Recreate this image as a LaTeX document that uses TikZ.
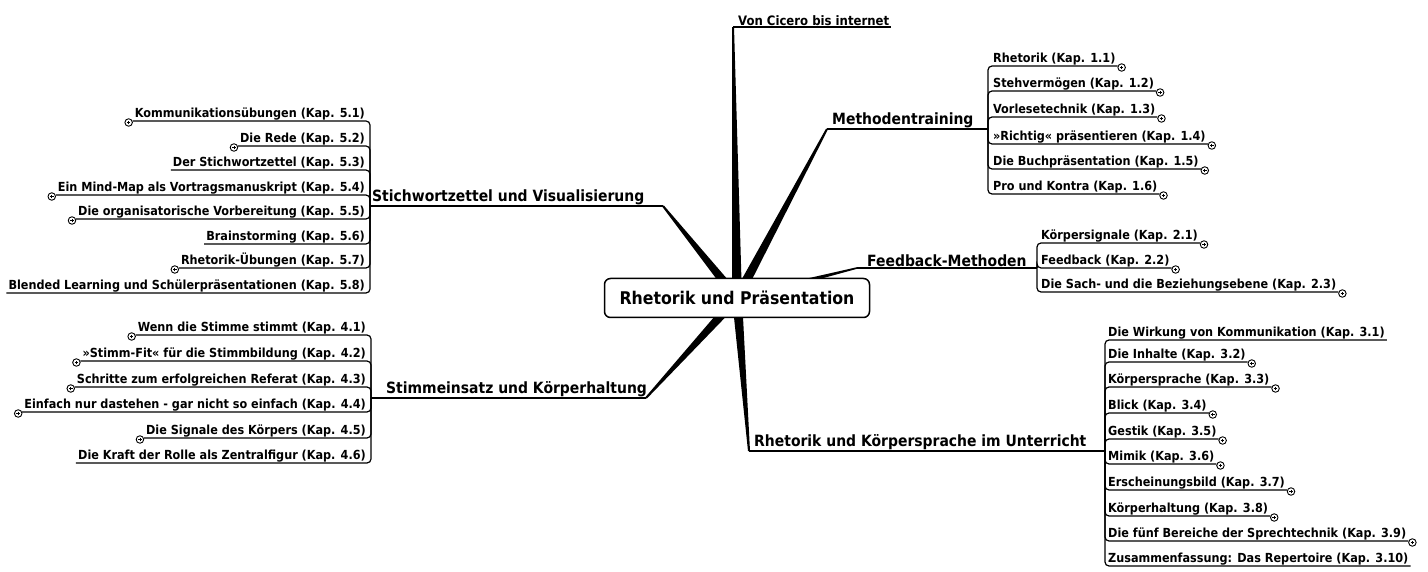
\documentclass[tikz,border=0pt]{standalone}
\usepackage{fontspec}
\setmainfont{DejaVu Sans Condensed}
\usetikzlibrary{calc}
\tikzset{
  base/.style={font=\bfseries\fontsize{12.5}{14}\selectfont, inner xsep=2pt, inner ysep=1pt},
  rc/.style={base, anchor=south west},
  lc/.style={base, anchor=south east},
  mainlbl/.style={font=\bfseries\fontsize{15.5}{17}\selectfont, inner xsep=2pt, inner ysep=1pt, anchor=south west},
  ul/.style={line width=1.2pt},
  conn/.style={line width=1.2pt, rounded corners=4pt},
  plusc/.style={circle, draw, line width=0.9pt, minimum size=7.5pt, inner sep=0pt, fill=white,
    path picture={
      \draw[line width=0.8pt] ([xshift=-1.8pt]path picture bounding box.center) -- ([xshift=1.8pt]path picture bounding box.center);
      \draw[line width=0.8pt] ([yshift=-1.8pt]path picture bounding box.center) -- ([yshift=1.8pt]path picture bounding box.center);
    }},
  centerbox/.style={draw, line width=1.5pt, rounded corners=6pt, fill=white, minimum width=265pt, minimum height=39pt,
    font=\bfseries\fontsize{17.5}{19}\selectfont}
}
\newcommand\taper[4]{\fill ($#1!#3!90:#2$) -- ($#1!#3!-90:#2$) -- ($#2!#4!90:#1$) -- ($#2!#4!-90:#1$) -- cycle;}
\begin{document}
\begin{tikzpicture}[x=1pt,y=-1pt]
\useasboundingbox[fill=white] (0,0) rectangle (1428,572);
% hub and branch ends
\coordinate (cc) at (737,298);
\coordinate (e1) at (733,27);
\coordinate (e2) at (827,129);
\coordinate (e3) at (857,268);
\coordinate (e4) at (749,451);
\coordinate (e5) at (663,206);
\coordinate (e6) at (646,398);
\coordinate (mj) at (988,129);
\coordinate (fj) at (1037,268);
\coordinate (rj) at (1105,451);
\coordinate (sj) at (370,206);
\coordinate (tj) at (371,398);
% tapered main branches
\taper{(cc)}{(e1)}{5pt}{1pt}
\taper{(cc)}{(e2)}{5pt}{1pt}
\taper{(cc)}{(e3)}{3.5pt}{0.8pt}
\taper{(cc)}{(e4)}{5pt}{1pt}
\taper{(cc)}{(e5)}{5pt}{1pt}
\taper{(cc)}{(e6)}{5pt}{1pt}
% central node
\node[centerbox] (root) at (cc) {Rhetorik und Präsentation};
% main labels
\node[base, anchor=south west, font=\bfseries\fontsize{13}{15}\selectfont] (cic) at (736,27) {Von Cicero bis internet};
\draw[ul] (e1) -- (cic.south east);
\node[mainlbl] (meth) at (830,129) {Methodentraining};
\draw[ul] (e2) -- (mj);
\node[mainlbl] (fb) at (865,268) {Feedback-Methoden};
\draw[ul] (e3) -- (fj);
\node[mainlbl] (rk) at (752,451) {Rhetorik und Körpersprache im Unterricht};
\draw[ul] (e4) -- (rj);
\node[mainlbl] (sw) at (370,206) {Stichwortzettel und Visualisierung};
\draw[ul] (e5) -- (sj);
\node[mainlbl] (st) at (384,398) {Stimmeinsatz und Körperhaltung};
\draw[ul] (e6) -- (tj);
% right children: Methodentraining
\foreach \nm/\yy/\txt/\pp in {
  m1/66/{Rhetorik (Kap. 1.1)}/1,
  m2/91/{Stehvermögen (Kap. 1.2)}/1,
  m3/117/{Vorlesetechnik (Kap. 1.3)}/1,
  m4/144/{»Richtig« präsentieren (Kap. 1.4)}/1,
  m5/169/{Die Buchpräsentation (Kap. 1.5)}/1,
  m6/194/{Pro und Kontra (Kap. 1.6)}/1}{
  \node[rc] (\nm) at (991,\yy) {\txt};
  \draw[conn] (mj) |- (\nm.south east);
  \ifnum\pp=1 \node[plusc] (\nm p) at ([xshift=4pt,yshift=-1.5pt]\nm.south east) {};\fi
}
% right children: Feedback-Methoden
\foreach \nm/\yy/\txt/\pp in {
  f1/243/{Körpersignale (Kap. 2.1)}/1,
  f2/268/{Feedback (Kap. 2.2)}/1,
  f3/292/{Die Sach- und die Beziehungsebene (Kap. 2.3)}/1}{
  \node[rc] (\nm) at (1039,\yy) {\txt};
  \draw[conn] (fj) |- (\nm.south east);
  \ifnum\pp=1 \node[plusc] (\nm p) at ([xshift=4pt,yshift=-1.5pt]\nm.south east) {};\fi
}
% right children: Rhetorik und Koerpersprache
\foreach \nm/\yy/\txt/\pp in {
  r1/340/{Die Wirkung von Kommunikation (Kap. 3.1)}/0,
  r2/362/{Die Inhalte (Kap. 3.2)}/1,
  r3/387/{Körpersprache (Kap. 3.3)}/1,
  r4/413/{Blick (Kap. 3.4)}/1,
  r5/439/{Gestik (Kap. 3.5)}/1,
  r6/464/{Mimik (Kap. 3.6)}/1,
  r7/490/{Erscheinungsbild (Kap. 3.7)}/1,
  r8/516/{Körperhaltung (Kap. 3.8)}/1,
  r9/541/{Die fünf Bereiche der Sprechtechnik (Kap. 3.9)}/1,
  r10/566/{Zusammenfassung: Das Repertoire (Kap. 3.10)}/0}{
  \node[rc] (\nm) at (1106,\yy) {\txt};
  \draw[conn] (rj) |- (\nm.south east);
  \ifnum\pp=1 \node[plusc] (\nm p) at ([xshift=4pt,yshift=-1.5pt]\nm.south east) {};\fi
}
% left children: Stichwortzettel
\foreach \nm/\yy/\txt/\pp in {
  s1/121/{Kommunikationsübungen (Kap. 5.1)}/1,
  s2/146/{Die Rede (Kap. 5.2)}/1,
  s3/170/{Der Stichwortzettel (Kap. 5.3)}/0,
  s4/195/{Ein Mind-Map als Vortragsmanuskript (Kap. 5.4)}/1,
  s5/219/{Die organisatorische Vorbereitung (Kap. 5.5)}/1,
  s6/244/{Brainstorming (Kap. 5.6)}/0,
  s7/268/{Rhetorik-Übungen (Kap. 5.7)}/1,
  s8/293/{Blended Learning und Schülerpräsentationen (Kap. 5.8)}/0}{
  \node[lc] (\nm) at (367,\yy) {\txt};
  \draw[conn] (sj) |- (\nm.south west);
  \ifnum\pp=1 \node[plusc] (\nm p) at ([xshift=-4pt,yshift=-1.5pt]\nm.south west) {};\fi
}
% left children: Stimmeinsatz
\foreach \nm/\yy/\txt/\pp in {
  t1/335/{Wenn die Stimme stimmt (Kap. 4.1)}/1,
  t2/361/{»Stimm-Fit« für die Stimmbildung (Kap. 4.2)}/1,
  t3/387/{Schritte zum erfolgreichen Referat (Kap. 4.3)}/1,
  t4/412/{Einfach nur dastehen - gar nicht so einfach (Kap. 4.4)}/1,
  t5/438/{Die Signale des Körpers (Kap. 4.5)}/1,
  t6/463/{Die Kraft der Rolle als Zentralfigur (Kap. 4.6)}/0}{
  \node[lc] (\nm) at (368,\yy) {\txt};
  \draw[conn] (tj) |- (\nm.south west);
  \ifnum\pp=1 \node[plusc] (\nm p) at ([xshift=-4pt,yshift=-1.5pt]\nm.south west) {};\fi
}
\end{tikzpicture}
\end{document}
